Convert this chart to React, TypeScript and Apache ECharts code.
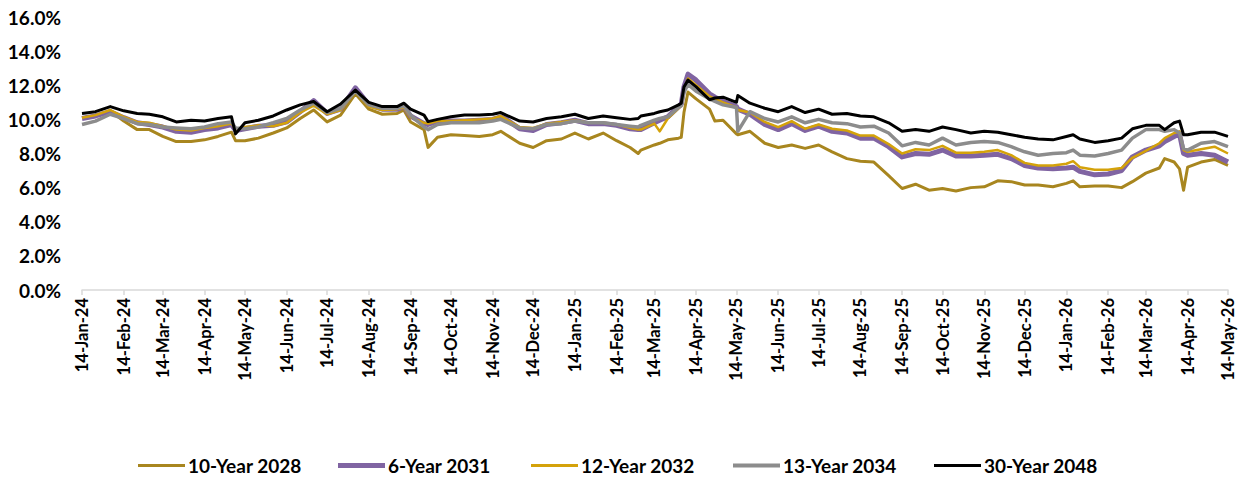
import { useEffect, useRef } from 'react';
import * as echarts from 'echarts';

const dates = [
  '2024-01-14','2024-01-24','2024-02-04','2024-02-14','2024-02-24','2024-03-04','2024-03-14','2024-03-24',
  '2024-04-04','2024-04-14','2024-04-24','2024-05-04','2024-05-07','2024-05-14','2024-05-24','2024-06-04',
  '2024-06-14','2024-06-24','2024-07-04','2024-07-14','2024-07-24','2024-08-04','2024-08-14','2024-08-24',
  '2024-09-04','2024-09-09','2024-09-14','2024-09-24','2024-09-27','2024-10-04','2024-10-14','2024-10-24',
  '2024-11-04','2024-11-14','2024-11-20','2024-11-24','2024-12-04','2024-12-14','2024-12-24','2025-01-04',
  '2025-01-14','2025-01-24','2025-02-04','2025-02-14','2025-02-24','2025-03-02','2025-03-04','2025-03-14',
  '2025-03-18','2025-03-24','2025-04-01','2025-04-03','2025-04-05','2025-04-08','2025-04-14','2025-04-24',
  '2025-04-28','2025-05-04','2025-05-14','2025-05-15','2025-05-24','2025-06-04','2025-06-14','2025-06-24',
  '2025-07-04','2025-07-14','2025-07-24','2025-08-04','2025-08-14','2025-08-24','2025-09-04','2025-09-14',
  '2025-09-24','2025-10-04','2025-10-14','2025-10-24','2025-11-04','2025-11-14','2025-11-24','2025-12-04',
  '2025-12-14','2025-12-24','2026-01-04','2026-01-14','2026-01-19','2026-01-24','2026-02-04','2026-02-14',
  '2026-02-24','2026-03-04','2026-03-14','2026-03-24','2026-03-28','2026-04-04','2026-04-08','2026-04-11',
  '2026-04-14','2026-04-24','2026-05-04','2026-05-14',
];

const y10_2028 = [
  10.1,10.2,10.5,9.9,9.4,9.4,9.0,8.7,
  8.7,8.8,9.0,9.25,8.75,8.75,8.9,9.2,
  9.5,10.05,10.55,9.85,10.25,11.5,10.6,10.3,
  10.35,10.55,9.85,9.4,8.36,8.95,9.1,9.05,
  9.0,9.1,9.3,9.1,8.6,8.35,8.75,8.85,
  9.2,8.85,9.2,8.75,8.35,8.0,8.2,8.5,
  8.6,8.8,8.9,8.95,10.4,11.6,11.2,10.6,
  9.9,9.95,9.15,9.1,9.3,8.6,8.35,8.5,
  8.3,8.5,8.1,7.7,7.55,7.5,6.7,5.95,
  6.2,5.85,5.95,5.8,6.0,6.05,6.4,6.35,
  6.15,6.15,6.05,6.25,6.4,6.05,6.1,6.1,
  6.0,6.35,6.85,7.15,7.7,7.5,7.1,5.85,
  7.2,7.5,7.65,7.3,
];

const y6_2031 = [
  10.05,10.2,10.45,10.1,9.8,9.7,9.55,9.3,
  9.25,9.4,9.5,9.7,9.35,9.45,9.6,9.65,
  9.85,10.45,11.1,10.35,10.6,11.85,10.85,10.6,
  10.6,10.75,10.2,9.75,9.7,9.9,9.9,9.9,
  9.95,10.0,10.15,10.0,9.45,9.35,9.7,9.8,
  9.95,9.75,9.75,9.65,9.45,9.4,9.4,9.8,
  9.95,10.15,10.75,10.9,11.9,12.65,12.3,11.5,
  11.3,11.05,10.75,10.6,10.3,9.7,9.4,9.75,
  9.35,9.6,9.3,9.2,8.9,8.9,8.4,7.8,
  8.0,7.95,8.2,7.85,7.85,7.9,7.95,7.7,
  7.3,7.15,7.1,7.15,7.2,6.95,6.75,6.8,
  7.0,7.8,8.2,8.45,8.7,9.0,9.15,8.0,
  7.9,8.0,7.9,7.5,
];

const y12_2032 = [
  10.1,10.25,10.55,10.15,9.85,9.8,9.6,9.4,
  9.35,9.5,9.6,9.75,9.4,9.55,9.65,9.6,
  9.8,10.4,10.8,10.3,10.55,11.65,10.75,10.55,
  10.6,10.7,10.15,9.8,9.75,9.9,9.9,9.95,
  10.0,10.05,10.2,10.0,9.55,9.5,9.75,9.85,
  9.95,9.8,9.8,9.7,9.5,9.4,9.4,9.75,
  9.3,10.05,10.65,10.8,11.7,12.4,12.0,11.35,
  11.2,11.0,10.7,10.55,10.4,9.85,9.55,9.9,
  9.45,9.7,9.45,9.35,9.05,9.05,8.55,8.0,
  8.25,8.2,8.45,8.05,8.05,8.1,8.2,7.9,
  7.45,7.3,7.3,7.4,7.55,7.2,7.05,7.05,
  7.15,7.75,8.15,8.6,8.9,9.2,9.3,8.2,
  8.1,8.25,8.4,8.0,
];

const y13_2034 = [
  9.7,9.9,10.3,10.05,9.75,9.7,9.55,9.5,
  9.45,9.55,9.75,9.85,9.5,9.45,9.55,9.8,
  10.05,10.55,10.95,10.4,10.65,11.65,10.85,10.65,
  10.65,10.8,10.25,9.55,9.4,9.7,9.8,9.8,
  9.8,9.9,10.0,9.85,9.5,9.45,9.7,9.75,
  9.9,9.8,9.8,9.7,9.6,9.55,9.65,9.95,
  10.05,10.15,10.7,10.8,11.6,12.05,11.65,11.2,
  11.05,10.85,10.7,9.3,10.45,10.05,9.85,10.15,
  9.8,10.0,9.8,9.75,9.55,9.6,9.2,8.45,
  8.65,8.5,8.9,8.5,8.65,8.7,8.65,8.4,
  8.1,7.9,8.0,8.05,8.2,7.9,7.85,8.0,
  8.2,8.9,9.4,9.4,9.3,9.4,9.2,8.3,
  8.2,8.6,8.7,8.4,
];

const y30_2048 = [
  10.35,10.45,10.75,10.5,10.35,10.3,10.15,9.85,
  9.95,9.9,10.05,10.15,9.15,9.8,9.95,10.2,
  10.55,10.85,11.05,10.45,10.9,11.72,11.0,10.75,
  10.75,10.95,10.6,10.25,9.87,10.0,10.15,10.25,
  10.25,10.3,10.4,10.25,9.9,9.85,10.05,10.15,
  10.3,10.05,10.2,10.1,10.0,10.05,10.2,10.35,
  10.45,10.55,10.85,10.95,11.9,12.3,11.9,11.15,
  11.25,11.3,11.0,11.4,10.95,10.65,10.45,10.75,
  10.4,10.6,10.3,10.35,10.2,10.15,9.8,9.3,
  9.4,9.3,9.55,9.4,9.2,9.3,9.25,9.1,
  8.95,8.85,8.8,9.0,9.1,8.85,8.65,8.75,
  8.9,9.45,9.65,9.65,9.4,9.8,9.9,9.1,
  9.1,9.25,9.25,9.0,
];

const tickLabels = [
  '14-Jan-24','14-Feb-24','14-Mar-24','14-Apr-24','14-May-24','14-Jun-24','14-Jul-24','14-Aug-24',
  '14-Sep-24','14-Oct-24','14-Nov-24','14-Dec-24','14-Jan-25','14-Feb-25','14-Mar-25','14-Apr-25',
  '14-May-25','14-Jun-25','14-Jul-25','14-Aug-25','14-Sep-25','14-Oct-25','14-Nov-25','14-Dec-25',
  '14-Jan-26','14-Feb-26','14-Mar-26','14-Apr-26','14-May-26',
];

const seriesNames = ['10-Year 2028', '6-Year 2031', '12-Year 2032', '13-Year 2034', '30-Year 2048'];
const seriesColors = ['#A8861F', '#8064A2', '#D4A20A', '#8C8C8C', '#000000'];
const seriesWidths = [3, 5, 2.5, 3.5, 3];
const legendThickness = [3, 5, 3, 4, 3];
const legendLefts = [138, 338, 531, 733, 934];

const MONTHS = ['Jan','Feb','Mar','Apr','May','Jun','Jul','Aug','Sep','Oct','Nov','Dec'];
const parseTick = (s: string) => {
  const [d, m, y] = s.split('-');
  return Date.UTC(2000 + Number(y), MONTHS.indexOf(m), Number(d));
};
const parseDate = (s: string) => {
  const [y, m, d] = s.split('-').map(Number);
  return Date.UTC(y, m - 1, d);
};

const FONT = 'Lato';

export default function App() {
  const ref = useRef<HTMLDivElement>(null);
  useEffect(() => {
    document.body.style.margin = '0';
    const chart = echarts.init(ref.current!, null, { renderer: 'svg' });
    const tickTs = tickLabels.map(parseTick);
    const labelMap = new Map<number, string>(tickTs.map((t, i) => [t, tickLabels[i]]));
    const ts = dates.map(parseDate);
    const allValues = [y10_2028, y6_2031, y12_2032, y13_2034, y30_2048];
    const series = allValues.map((vals, k) => ({
      name: seriesNames[k],
      type: 'line',
      data: ts.map((t, i) => [t, vals[i]]),
      symbol: 'none',
      showSymbol: false,
      lineStyle: { color: seriesColors[k], width: seriesWidths[k], join: 'round' },
      itemStyle: { color: seriesColors[k] },
      z: 2 + k,
    }));
    const legends = seriesNames.map((name, k) => ({
      data: [name],
      left: legendLefts[k],
      top: 456,
      padding: 0,
      icon: 'rect',
      itemWidth: 47,
      itemHeight: legendThickness[k],
      itemGap: 0,
      textStyle: { fontFamily: FONT, fontWeight: 'bold', fontSize: 19, color: '#000', padding: [0, 0, 0, -2] },
    }));
    chart.setOption({
      animation: false,
      grid: { left: 82, right: 19, top: 17, bottom: 199 },
      xAxis: {
        type: 'value',
        min: tickTs[0],
        max: tickTs[tickTs.length - 1],
        axisLine: { show: true, lineStyle: { color: '#d9d9d9', width: 1.5 } },
        axisTick: { show: true, customValues: tickTs, length: 5, lineStyle: { color: '#d9d9d9', width: 1.5 } },
        axisLabel: {
          customValues: tickTs,
          rotate: 90,
          formatter: (v: number) => labelMap.get(v) ?? '',
          fontFamily: FONT,
          fontWeight: 'bold',
          fontSize: 16.5,
          color: '#000',
          margin: 8,
        },
        splitLine: { show: false },
      },
      yAxis: {
        type: 'value',
        min: 0,
        max: 16,
        interval: 2,
        axisLine: { show: false },
        axisTick: { show: false },
        splitLine: { show: false },
        axisLabel: {
          formatter: (v: number) => v.toFixed(1) + '%',
          fontFamily: FONT,
          fontWeight: 'bold',
          fontSize: 19,
          color: '#000',
          margin: 21,
        },
      },
      legend: legends,
      series,
    });
    return () => chart.dispose();
  }, []);
  return <div ref={ref} style={{ width: 1247, height: 489 }} />;
}
